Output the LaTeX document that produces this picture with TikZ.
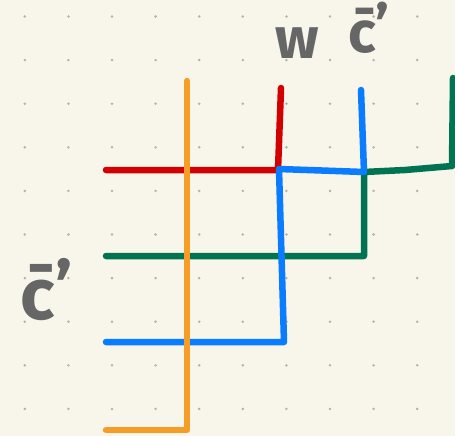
\documentclass[tikz,border=0pt]{standalone}
\usepackage{fontspec}
\setmainfont{Fira Sans}
\definecolor{bgc}{HTML}{F8F6EA}
\definecolor{dotc}{HTML}{B4B2AA}
\definecolor{wred}{HTML}{D20000}
\definecolor{worange}{HTML}{F59D27}
\definecolor{wblue}{HTML}{0A7CFF}
\definecolor{wgreen}{HTML}{007452}
\definecolor{inkc}{HTML}{666666}
\begin{document}
\begin{tikzpicture}[x=1pt,y=-1pt,
  wire/.style={line width=6.5pt,line cap=round,line join=round},
  lbl/.style={text=inkc,font=\fontsize{58}{58}\selectfont\bfseries,inner sep=0pt}]
\fill[bgc] (0,0) rectangle (455,436);
\useasboundingbox (0,0) rectangle (455,436);
\foreach \i in {0,...,9}{
  \foreach \j in {0,...,9}{
    \fill[dotc] ({24.8+43.6*\i},{16.5+43.6*\j}) circle (1.4);
  }
}
% coordinates
\coordinate (oT) at (187,81);
\coordinate (oB) at (187,430);
\coordinate (oL) at (106,430);
\coordinate (rT) at (281,88);
\coordinate (rC) at (278,170);
\coordinate (rL) at (106,170);
\coordinate (bT) at (361,90);
\coordinate (bC) at (364,172);
\coordinate (bM) at (279,169);
\coordinate (bD) at (284,342);
\coordinate (bL) at (106,342);
\coordinate (gL) at (106,256);
\coordinate (gC) at (364,256);
\coordinate (gU) at (364,172);
\coordinate (gM) at (405,170);
\coordinate (gR) at (452,166);
\coordinate (gT) at (453,78);
% wires
\draw[wire,wgreen] (gL) -- (gC) -- (gU) -- (gM) -- (gR) -- (gT);
\draw[wire,wred] (rL) -- (rC) -- (rT);
\draw[wire,wblue] (bT) -- (bC) -- (bM) -- (bD) -- (bL);
\draw[wire,worange] (oT) -- (oB) -- (oL);
% labels
\node[lbl] (w) at (297,43) {w};
\node[lbl] (c1) at (362,28) {\=c\rlap{\raisebox{6pt}{'}}};
\node[lbl,font=\fontsize{72}{72}\selectfont\bfseries] (c2) at (38,290) {\=c\rlap{\raisebox{6pt}{'}}};
\end{tikzpicture}
\end{document}
